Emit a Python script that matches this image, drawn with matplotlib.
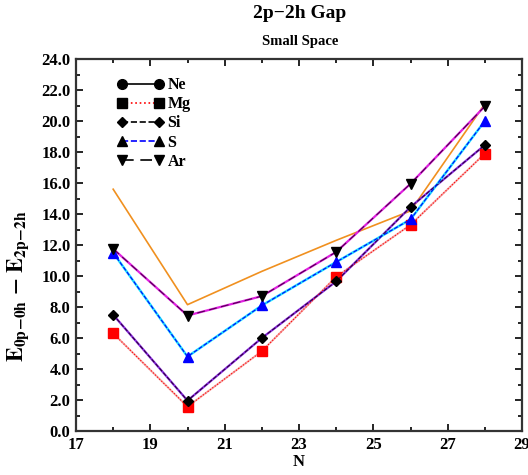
import matplotlib
matplotlib.use("Agg")
import matplotlib.pyplot as plt
from matplotlib.ticker import MultipleLocator, FormatStrFormatter

plt.rcParams['font.family'] = ['Liberation Serif', 'DejaVu Serif']
plt.rcParams['font.weight'] = 'bold'
plt.rcParams['mathtext.fontset'] = 'stix'

# data
N = [18, 20, 22, 24, 26, 28]
mg = [6.3, 1.57, 5.15, 9.95, 13.3, 17.9]
si = [7.5, 1.96, 6.0, 9.65, 14.45, 18.45]
s = [11.5, 4.8, 8.1, 10.9, 13.65, 20.0]
ar = [11.75, 7.45, 8.7, 11.55, 15.95, 20.95]
other = [15.6, 8.15, 10.3, 12.3, 14.2, 21.1]

fig = plt.figure(figsize=(5.28, 4.75), dpi=100)
ax = fig.add_axes([76 / 528, 1 - 431 / 475, 446 / 528, 372 / 475])

# thin coloured lines underneath
ax.plot(N, other, color='#f0901f', lw=1.2)
ax.plot(N, mg, color='#f4a8a8', lw=1.4)
ax.plot(N, si, color='#8a2be2', lw=1.6)
ax.plot(N, s, color='#20e0ff', lw=1.8)
ax.plot(N, ar, color='#e020e0', lw=1.6)

# marker series (these make the legend)
ax.plot([], [], 'k-', marker='o', ms=7, lw=1.2, label='Ne')
ax.plot(N, mg, color='red', ls=':', lw=0.8, marker='s', ms=6.5, mfc='red', mec='red', label='Mg')
ax.plot(N, si, color='#300040', ls='--', lw=0.8, marker='D', ms=5.5, mfc='black', mec='black', label='Si')
ax.plot(N, s, color='blue', ls='--', lw=0.8, marker='^', ms=7.5, mfc='blue', mec='blue', label='S')
ax.plot(N, ar, color='#500050', ls=(0, (7, 4)), lw=0.8, marker='v', ms=7.5, mfc='black', mec='black', label='Ar')

leg = ax.legend(loc='upper left', bbox_to_anchor=(0.06, 0.99), frameon=False,
                numpoints=2, handlelength=2.9, labelspacing=0.2, handletextpad=0.25,
                prop={'family': 'Liberation Serif', 'weight': 'bold', 'size': 11.5})
leg_colors = ['black', 'red', 'black', 'blue', 'black']
for h, c in zip(leg.legend_handles, leg_colors):
    h.set_color(c)
    h.set_linewidth(1.2)
    h.set_markerfacecolor('black')
    h.set_markeredgecolor('black')

ax.set_xlim(17, 29)
ax.set_ylim(0, 24)
ax.xaxis.set_major_locator(MultipleLocator(2, offset=1))
ax.xaxis.set_minor_locator(MultipleLocator(1))
ax.yaxis.set_major_locator(MultipleLocator(2))
ax.yaxis.set_minor_locator(MultipleLocator(1))
ax.yaxis.set_major_formatter(FormatStrFormatter('%.1f'))
ax.tick_params(which='both', direction='in', top=True, right=True, labelsize=12, width=1.2)
ax.tick_params(which='major', length=5, pad=4)
ax.tick_params(which='minor', length=3)
for lab in ax.get_xticklabels() + ax.get_yticklabels():
    lab.set_fontweight('bold')
for sp in ax.spines.values():
    sp.set_linewidth(1.6)
    sp.set_color('#333333')

ax.set_xlabel('N', fontsize=12, fontweight='bold', labelpad=1)
ax.set_ylabel(r'$\mathbf{E}_{\mathbf{0p\!-\!0h}}\ \mathbf{-}\ \mathbf{E}_{\mathbf{2p\!-\!2h}}$',
              fontsize=16)
ax.yaxis.set_label_coords(-0.10, 0.39)

fig.text(300 / 528, 1 - 14 / 475, '2p\u22122h Gap', ha='center', va='center',
         fontsize=14, fontweight='bold')
fig.text(300 / 528, 1 - 42 / 475, 'Small Space', ha='center', va='center',
         fontsize=10.5, fontweight='bold')

fig.savefig('out.png', dpi=100)
